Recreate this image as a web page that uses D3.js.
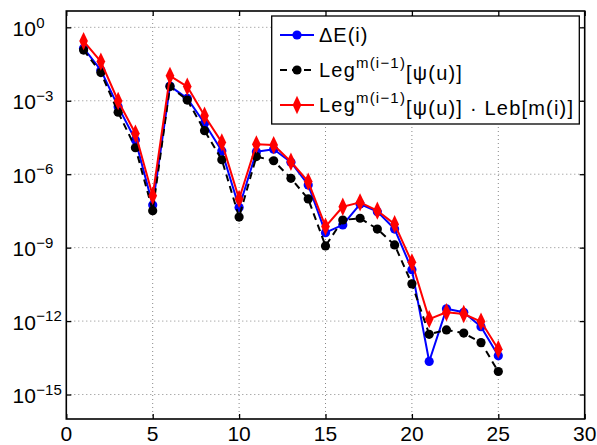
<!DOCTYPE html>
<html><head><meta charset="utf-8">
<script src="https://cdn.jsdelivr.net/npm/d3@7"></script>
<style>body{margin:0;background:#fff}svg{display:block}text{font-family:"Liberation Sans",Arial,sans-serif}</style>
</head><body><svg id="c" width="597" height="445"></svg>
<script>
const xs = [1,2,3,4,5,6,7,8,9,10,11,12,13,14,15,16,17,18,19,20,21,22,23,24,25];
// log10 values
const deltaE = [-0.85,-1.75,-3.24,-4.60,-7.26,-2.40,-2.90,-3.92,-5.05,-7.36,-5.08,-4.98,-5.51,-6.44,-8.39,-8.07,-7.22,-7.53,-8.24,-9.90,-13.65,-11.50,-11.64,-12.23,-13.42];
const legPsi = [-0.93,-1.85,-3.47,-4.92,-7.49,-2.42,-2.97,-4.22,-5.41,-7.75,-5.28,-5.45,-6.17,-7.01,-8.93,-7.87,-7.80,-8.24,-8.89,-10.48,-12.54,-12.36,-12.49,-12.88,-14.06];
const legLeb = [-0.56,-1.40,-3.01,-4.34,-6.88,-1.98,-2.42,-3.61,-4.70,-7.01,-4.78,-4.81,-5.49,-6.30,-8.14,-7.33,-7.15,-7.49,-8.04,-9.60,-11.92,-11.64,-11.71,-12.02,-13.15];
const xTicks = [0,5,10,15,20,25,30];
const yTickExp = [0,-3,-6,-9,-12,-15];

const svg = d3.select("#c");
const L=66.3,R=584.7,T=11,B=419;
const x = d3.scaleLinear().domain([0,30]).range([L,R]);
const y = d3.scaleLog().domain([1e-16, Math.pow(10,0.667)]).range([B,T]);

// grid
const g = svg.append("g");
g.selectAll(".gx").data(xTicks.slice(1,-1)).enter().append("line")
 .attr("x1",d=>x(d)).attr("x2",d=>x(d)).attr("y1",T).attr("y2",B)
 .attr("stroke","#888").attr("stroke-width",1).attr("stroke-dasharray","1,3");
g.selectAll(".gy").data(yTickExp).enter().append("line")
 .attr("y1",d=>y(Math.pow(10,d))).attr("y2",d=>y(Math.pow(10,d))).attr("x1",L).attr("x2",R)
 .attr("stroke","#888").attr("stroke-width",1).attr("stroke-dasharray","1,3");

// axes with d3 axis generators (inward ticks)
const ax = svg.append("g").attr("transform",`translate(0,${B})`)
 .call(d3.axisBottom(x).tickValues(xTicks).tickSize(-5).tickFormat(""));
const axT = svg.append("g").attr("transform",`translate(0,${T})`)
 .call(d3.axisTop(x).tickValues(xTicks).tickSize(-5).tickFormat(""));
const ayL = svg.append("g").attr("transform",`translate(${L},0)`)
 .call(d3.axisLeft(y).tickValues(yTickExp.map(e=>Math.pow(10,e))).tickSize(-5).tickFormat(""));
const ayR = svg.append("g").attr("transform",`translate(${R},0)`)
 .call(d3.axisRight(y).tickValues(yTickExp.map(e=>Math.pow(10,e))).tickSize(-5).tickFormat(""));
[ax,axT,ayL,ayR].forEach(a=>{a.select(".domain").remove();a.selectAll("line").attr("stroke","#000").attr("stroke-width",1.3);});
svg.append("rect").attr("x",L).attr("y",T).attr("width",R-L).attr("height",B-T)
 .attr("fill","none").attr("stroke","#000").attr("stroke-width",1.6);

// tick labels
svg.selectAll(".xl").data(xTicks).enter().append("text")
 .attr("x",d=>x(d)).attr("y",441).attr("text-anchor","middle").attr("font-size",21).text(d=>d);
const yl = svg.selectAll(".yl").data(yTickExp).enter().append("text")
 .attr("x",12.5).attr("y",d=>y(Math.pow(10,d))+8.7).attr("font-size",21);
yl.append("tspan").text("10");
yl.append("tspan").attr("font-size",15).attr("dx",0.5).attr("dy",-8.5).text(d=>d===0?"0":"\u2212"+(-d));

// series
const line = d3.line().x(d=>x(d[0])).y(d=>y(Math.pow(10,d[1])));
const zip = arr => xs.map((v,i)=>[v,arr[i]]);
const dia = d3.symbol().type(d3.symbolDiamond).size(80);
function drawSeries(data,color,dash,marker){
  const gg = svg.append("g");
  gg.append("path").datum(zip(data)).attr("d",line).attr("fill","none")
    .attr("stroke",color).attr("stroke-width",2).attr("stroke-dasharray",dash||null).attr("stroke-linejoin","round");
  if(marker==="circle"){
    gg.selectAll("circle").data(zip(data)).enter().append("circle")
      .attr("cx",d=>x(d[0])).attr("cy",d=>y(Math.pow(10,d[1]))).attr("r",4.6).attr("fill",color);
  } else {
    gg.selectAll("path.m").data(zip(data)).enter().append("path").attr("class","m")
      .attr("d",dia).attr("transform",d=>`translate(${x(d[0])},${y(Math.pow(10,d[1]))}) scale(0.9,1.1)`).attr("fill",color);
  }
}
drawSeries(deltaE,"#0000ff",null,"circle");
drawSeries(legPsi,"#000000","7,5","circle");
drawSeries(legLeb,"#ff0000",null,"diamond");

// legend
const lg = svg.append("g");
lg.append("rect").attr("x",271.7).attr("y",16).attr("width",307.6).attr("height",108)
 .attr("fill","#fff").attr("stroke","#000").attr("stroke-width",1.3);
const items = [
 {c:"#0000ff",dash:null,m:"circle"},
 {c:"#000000",dash:"7,5",m:"circle"},
 {c:"#ff0000",dash:null,m:"diamond"}];
const rowsY=[35,70,105];
items.forEach((it,i)=>{
  const yy=rowsY[i];
  lg.append("line").attr("x1",280).attr("x2",314).attr("y1",yy).attr("y2",yy)
    .attr("stroke",it.c).attr("stroke-width",2).attr("stroke-dasharray",it.dash);
  if(it.m==="circle") lg.append("circle").attr("cx",297).attr("cy",yy).attr("r",4.6).attr("fill",it.c);
  else lg.append("path").attr("d",dia).attr("transform",`translate(297,${yy}) scale(0.9,1.1)`).attr("fill",it.c);
});
lg.append("text").attr("x",319).attr("y",42).attr("font-size",20).attr("letter-spacing",1).text("\u0394E(i)");
function legText(yy,extra){
  const t = lg.append("text").attr("x",319).attr("y",yy).attr("font-size",20).attr("letter-spacing",1.2);
  t.append("tspan").text("Leg");
  t.append("tspan").attr("font-size",15).attr("dy",-9).text("m(i\u22121)");
  t.append("tspan").attr("dy",9+2.5).text("[\u03c8(u)]"+(extra||""));
}
legText(77,"");
legText(112," \u00b7 Leb[m(i)]");
</script></body></html>
